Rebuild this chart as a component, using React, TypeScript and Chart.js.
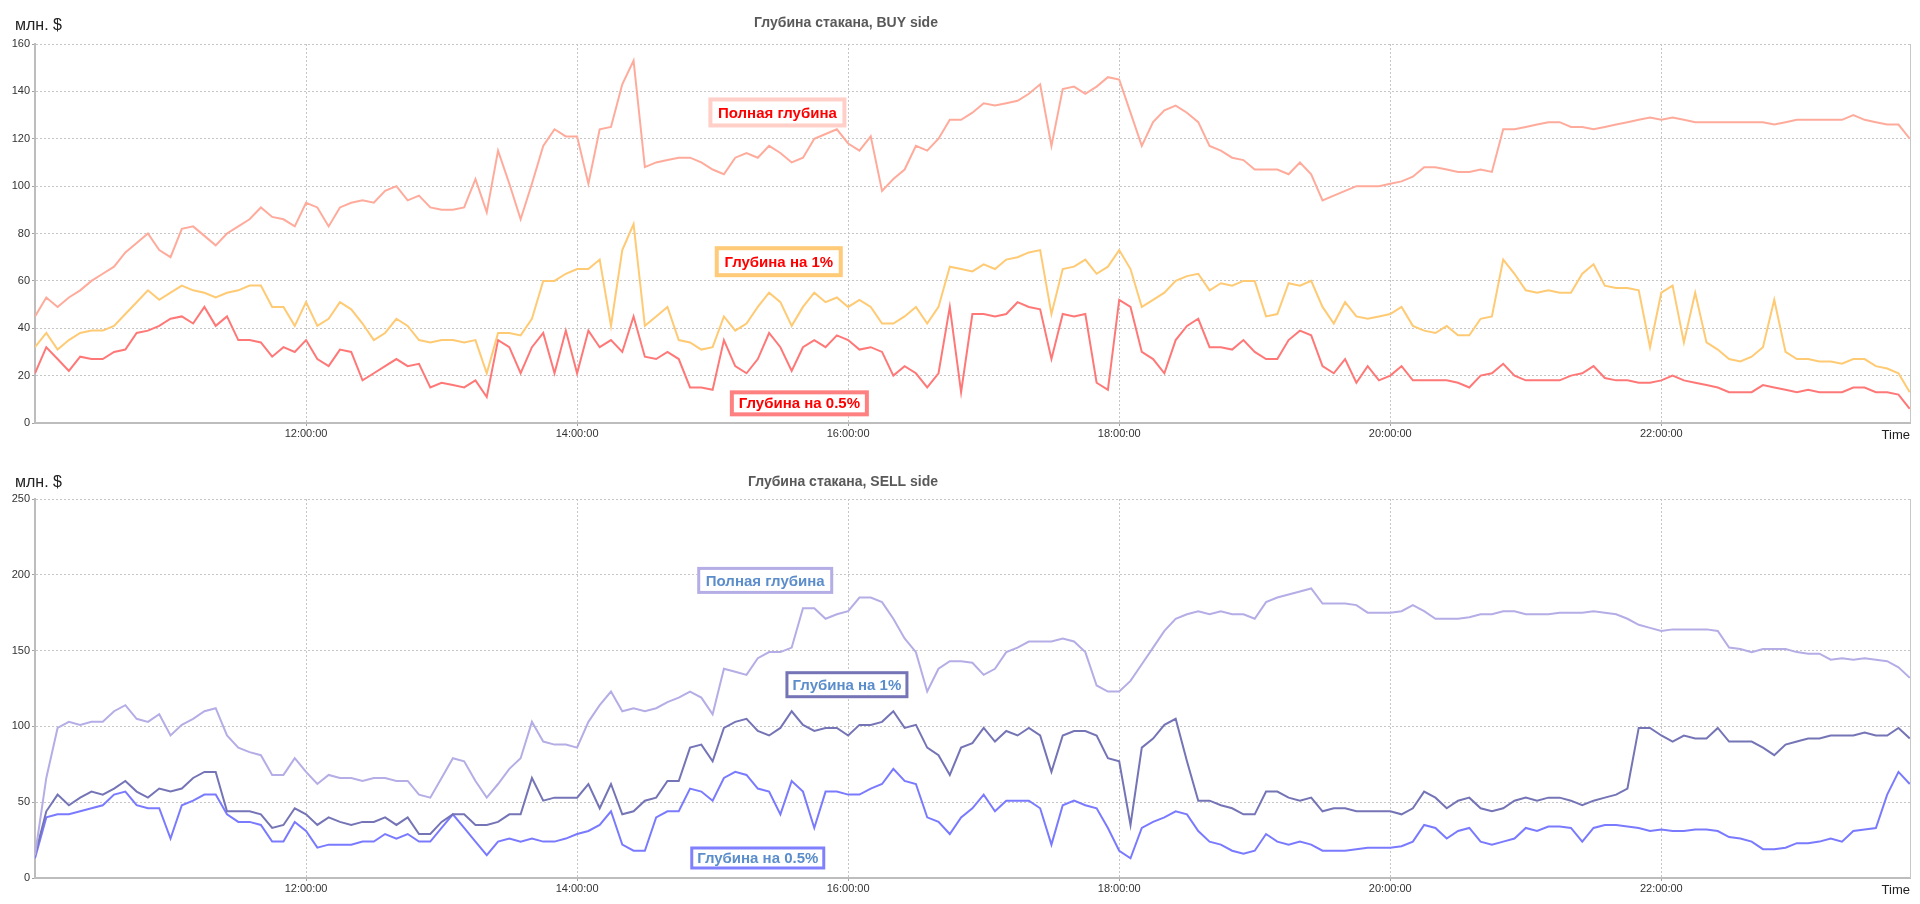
import React, { useEffect, useRef } from 'react';
import { Chart, registerables } from 'chart.js';

Chart.register(...registerables);

// ---- time axis: 5-minute samples from 10:00 to 23:50 ----
const START_HOUR = 10;
const STEP_MINUTES = 5;
const X_MAX_HOUR = 23.835;
const xTickHours = [12, 14, 16, 18, 20, 22];
const buyYTicks = [0, 20, 40, 60, 80, 100, 120, 140, 160];
const sellYTicks = [0, 50, 100, 150, 200, 250];

// ---- BUY side (млн. $) ----
const buyFull = [
  45, 53, 49, 53, 56, 60, 63, 66, 72, 76, 80, 73, // 10h
  70, 82, 83, 79, 75, 80, 83, 86, 91, 87, 86, 83, // 11h
  93, 91, 83, 91, 93, 94, 93, 98, 100, 94, 96, 91, // 12h
  90, 90, 91, 103, 89, 115, 101, 86, 101, 117, 124, 121, // 13h
  121, 101, 124, 125, 143, 153, 108, 110, 111, 112, 112, 110, // 14h
  107, 105, 112, 114, 112, 117, 114, 110, 112, 120, 122, 124, // 15h
  118, 115, 121, 98, 103, 107, 117, 115, 120, 128, 128, 131, // 16h
  135, 134, 135, 136, 139, 143, 117, 141, 142, 139, 142, 146, // 17h
  145, 131, 117, 127, 132, 134, 131, 127, 117, 115, 112, 111, // 18h
  107, 107, 107, 105, 110, 105, 94, 96, 98, 100, 100, 100, // 19h
  101, 102, 104, 108, 108, 107, 106, 106, 107, 106, 124, 124, // 20h
  125, 126, 127, 127, 125, 125, 124, 125, 126, 127, 128, 129, // 21h
  128, 129, 128, 127, 127, 127, 127, 127, 127, 127, 126, 127, // 22h
  128, 128, 128, 128, 128, 130, 128, 127, 126, 126, 120, // 23h
];
const buy1 = [
  32, 38, 31, 35, 38, 39, 39, 41, 46, 51, 56, 52,
  55, 58, 56, 55, 53, 55, 56, 58, 58, 49, 49, 41,
  51, 41, 44, 51, 48, 42, 35, 38, 44, 41, 35, 34,
  35, 35, 34, 35, 21, 38, 38, 37, 44, 60, 60, 63,
  65, 65, 69, 41, 73, 84, 41, 45, 49, 35, 34, 31,
  32, 45, 39, 42, 49, 55, 51, 41, 49, 55, 51, 53,
  49, 52, 49, 42, 42, 45, 49, 42, 49, 66, 65, 64,
  67, 65, 69, 70, 72, 73, 46, 65, 66, 69, 63, 66,
  73, 65, 49, 52, 55, 60, 62, 63, 56, 59, 58, 60,
  60, 45, 46, 59, 58, 60, 49, 42, 51, 45, 44, 45,
  46, 49, 41, 39, 38, 41, 37, 37, 44, 45, 69, 63,
  56, 55, 56, 55, 55, 63, 67, 58, 57, 57, 56, 32,
  55, 58, 34, 55, 34, 31, 27, 26, 28, 32, 52, 30,
  27, 27, 26, 26, 25, 27, 27, 24, 23, 21, 13,
];
const buy05 = [
  21, 32, 27, 22, 28, 27, 27, 30, 31, 38, 39, 41,
  44, 45, 42, 49, 41, 45, 35, 35, 34, 28, 32, 30,
  35, 27, 24, 31, 30, 18, 21, 24, 27, 24, 25, 15,
  17, 16, 15, 18, 11, 35, 32, 21, 32, 38, 21, 39,
  21, 39, 32, 35, 30, 45, 28, 27, 30, 27, 15, 15,
  14, 35, 24, 21, 27, 38, 32, 22, 32, 35, 32, 37,
  35, 31, 32, 30, 20, 24, 21, 15, 21, 49, 13, 46,
  46, 45, 46, 51, 49, 48, 27, 46, 45, 46, 17, 14,
  52, 49, 30, 27, 21, 35, 41, 44, 32, 32, 31, 35,
  30, 27, 27, 35, 39, 37, 24, 21, 27, 17, 24, 18,
  20, 24, 18, 18, 18, 18, 17, 15, 20, 21, 25, 20,
  18, 18, 18, 18, 20, 21, 24, 19, 18, 18, 17, 17,
  18, 20, 18, 17, 16, 15, 13, 13, 13, 16, 15, 14,
  13, 14, 13, 13, 13, 15, 15, 13, 13, 12, 6,
];

// ---- SELL side (млн. $) ----
const sellFull = [
  15, 66, 99, 103, 101, 103, 103, 110, 114, 105, 103, 108,
  94, 101, 105, 110, 112, 94, 86, 83, 81, 68, 68, 79,
  70, 62, 68, 66, 66, 64, 66, 66, 64, 64, 55, 53,
  66, 79, 77, 64, 53, 62, 72, 79, 103, 90, 88, 88,
  86, 103, 114, 123, 110, 112, 110, 112, 116, 119, 123, 119,
  108, 138, 136, 134, 145, 149, 149, 152, 178, 178, 171, 174,
  176, 185, 185, 182, 171, 158, 149, 123, 138, 143, 143, 142,
  134, 138, 149, 152, 156, 156, 156, 158, 156, 149, 127, 123,
  123, 130, 141, 152, 163, 171, 174, 176, 174, 176, 174, 174,
  171, 182, 185, 187, 189, 191, 181, 181, 181, 180, 175, 175,
  175, 176, 180, 176, 171, 171, 171, 172, 174, 174, 176, 176,
  174, 174, 174, 175, 175, 175, 176, 175, 174, 171, 167, 165,
  163, 164, 164, 164, 164, 163, 152, 151, 149, 151, 151, 151,
  149, 148, 148, 144, 145, 144, 145, 144, 143, 139, 132,
];
const sell1 = [
  15, 44, 55, 48, 53, 57, 55, 59, 64, 57, 53, 59,
  57, 59, 66, 70, 70, 44, 44, 44, 42, 33, 35, 46,
  42, 35, 40, 37, 35, 37, 37, 40, 35, 40, 29, 29,
  37, 42, 42, 35, 35, 37, 42, 42, 66, 51, 53, 53,
  53, 62, 46, 62, 42, 44, 51, 53, 64, 64, 86, 88,
  77, 99, 103, 105, 97, 94, 99, 110, 101, 97, 99, 99,
  94, 101, 101, 103, 110, 99, 101, 86, 81, 68, 86, 89,
  99, 90, 97, 94, 99, 94, 70, 94, 97, 97, 94, 79,
  77, 35, 86, 92, 101, 105, 77, 51, 51, 48, 46, 42,
  42, 57, 57, 53, 51, 53, 44, 46, 46, 44, 44, 44,
  44, 42, 46, 57, 53, 46, 51, 53, 46, 44, 46, 51,
  53, 51, 53, 53, 51, 48, 51, 53, 55, 59, 99, 99,
  94, 90, 94, 92, 92, 99, 90, 90, 90, 86, 81, 88,
  90, 92, 92, 94, 94, 94, 96, 94, 94, 99, 92,
];
const sell05 = [
  13, 40, 42, 42, 44, 46, 48, 55, 57, 48, 46, 46,
  26, 48, 51, 55, 55, 42, 37, 37, 35, 24, 24, 37,
  31, 20, 22, 22, 22, 24, 24, 29, 26, 29, 24, 24,
  33, 42, 33, 24, 15, 24, 26, 24, 26, 24, 24, 26,
  29, 31, 35, 44, 22, 18, 18, 40, 44, 44, 59, 57,
  51, 66, 70, 68, 59, 57, 42, 64, 57, 33, 57, 57,
  55, 55, 59, 62, 72, 64, 62, 40, 37, 29, 40, 46,
  55, 44, 51, 51, 51, 46, 22, 48, 51, 48, 46, 33,
  18, 13, 33, 37, 40, 44, 42, 31, 24, 22, 18, 16,
  18, 29, 24, 22, 24, 22, 18, 18, 18, 19, 20, 20,
  20, 21, 24, 35, 33, 26, 31, 33, 24, 22, 24, 26,
  33, 31, 34, 34, 33, 24, 33, 35, 35, 34, 33, 31,
  32, 31, 31, 32, 32, 31, 27, 26, 24, 19, 19, 20,
  23, 23, 24, 26, 24, 31, 32, 33, 55, 70, 62,
];

const seriesNames = ['Полная глубина', 'Глубина на 1%', 'Глубина на 0.5%'];

const hours = buyFull.map((_, i) => START_HOUR + (i * STEP_MINUTES) / 60);

const FONT = '"Liberation Sans", Arial, sans-serif';

type Note = { text: string; x: number; y: number; w: number; h: number; lw: number; border: string; color: string };

type PanelCfg = {
  title: string;
  titleX: number;
  titleY: number;
  unitY: number;
  timeY: number;
  padTop: number;
  xAxisHeight: number;
  yMax: number;
  yTicks: number[];
  series: number[][];
  colors: string[];
  notes: Note[];
};

const buyPanel: PanelCfg = {
  title: 'Глубина стакана, BUY side',
  titleX: 846,
  titleY: 23,
  unitY: 26,
  timeY: 435,
  padTop: 44,
  xAxisHeight: 29,
  yMax: 160,
  yTicks: buyYTicks,
  series: [buyFull, buy1, buy05],
  colors: ['#ffab9c', '#ffca74', '#ff7878'],
  notes: [
    { text: seriesNames[0], x: 15.478, y: 131.1, w: 138, h: 30, lw: 4, border: '#ffcfc8', color: '#ff0000' },
    { text: seriesNames[1], x: 15.488, y: 68.1, w: 128, h: 31, lw: 4, border: '#ffcb78', color: '#ff0000' },
    { text: seriesNames[2], x: 15.64, y: 8.3, w: 139, h: 26, lw: 4, border: '#ff8080', color: '#ff0000' },
  ],
};

const sellPanel: PanelCfg = {
  title: 'Глубина стакана, SELL side',
  titleX: 843,
  titleY: 30,
  unitY: 31,
  timeY: 438,
  padTop: 47,
  xAxisHeight: 26,
  yMax: 250,
  yTicks: sellYTicks,
  series: [sellFull, sell1, sell05],
  colors: ['#b4ade6', '#7474b6', '#7a7aff'],
  notes: [
    { text: seriesNames[0], x: 15.388, y: 196.3, w: 136, h: 27, lw: 3, border: '#b4ade6', color: '#5b8dcb' },
    { text: seriesNames[1], x: 15.991, y: 127.5, w: 123, h: 27, lw: 3, border: '#7474b6', color: '#5b8dcb' },
    { text: seriesNames[2], x: 15.333, y: 13.2, w: 135, h: 23, lw: 3, border: '#8080ff', color: '#5b8dcb' },
  ],
};

function two(n: number) {
  return n < 10 ? '0' + n : '' + n;
}

function makeOverlay(cfg: PanelCfg) {
  return {
    id: 'overlay',
    afterDraw(chart: any) {
      const { ctx, chartArea, scales } = chart;
      ctx.save();
      // right frame line
      ctx.strokeStyle = '#c8c8c8';
      ctx.lineWidth = 1;
      ctx.beginPath();
      ctx.moveTo(Math.round(chartArea.right) + 0.5, chartArea.top);
      ctx.lineTo(Math.round(chartArea.right) + 0.5, chartArea.bottom);
      ctx.stroke();
      // title
      ctx.fillStyle = '#595959';
      ctx.font = 'bold 14px ' + FONT;
      ctx.textAlign = 'center';
      ctx.textBaseline = 'middle';
      ctx.fillText(cfg.title, cfg.titleX, cfg.titleY);
      // unit label
      ctx.fillStyle = '#222';
      ctx.font = '16px ' + FONT;
      ctx.textAlign = 'left';
      ctx.fillText('млн. $', 15, cfg.unitY);
      // axis name
      ctx.font = '13px ' + FONT;
      ctx.textAlign = 'right';
      ctx.fillText('Time', chartArea.right, cfg.timeY);
      // boxed labels
      for (const n of cfg.notes) {
        const cx = scales.x.getPixelForValue(n.x);
        const cy = scales.y.getPixelForValue(n.y);
        const x0 = cx - n.w / 2;
        const y0 = cy - n.h / 2;
        ctx.fillStyle = '#ffffff';
        ctx.fillRect(x0, y0, n.w, n.h);
        ctx.strokeStyle = n.border;
        ctx.lineWidth = n.lw;
        ctx.strokeRect(x0 + n.lw / 2, y0 + n.lw / 2, n.w - n.lw, n.h - n.lw);
        ctx.fillStyle = n.color;
        ctx.font = 'bold 15px ' + FONT;
        ctx.textAlign = 'center';
        ctx.textBaseline = 'middle';
        ctx.fillText(n.text, cx, cy + 1);
      }
      ctx.restore();
    },
  };
}

function Panel({ cfg, top, height }: { cfg: PanelCfg; top: number; height: number }) {
  const ref = useRef<HTMLCanvasElement | null>(null);
  useEffect(() => {
    if (!ref.current) return;
    const datasets = cfg.series.map((arr, si) => ({
      label: seriesNames[si],
      data: arr.map((v, i) => ({ x: hours[i], y: v })),
      borderColor: cfg.colors[si],
      backgroundColor: cfg.colors[si],
      borderWidth: 2,
      pointRadius: 0,
      tension: 0,
      fill: false,
    }));
    const chart = new Chart(ref.current, {
      type: 'line',
      data: { datasets },
      options: {
        animation: false,
        responsive: false,
        maintainAspectRatio: false,
        layout: { padding: { top: cfg.padTop, right: 10, bottom: 0, left: 0 } },
        plugins: { legend: { display: false }, tooltip: { enabled: false }, title: { display: false } },
        scales: {
          x: {
            type: 'linear',
            min: START_HOUR,
            max: X_MAX_HOUR,
            afterBuildTicks: (s: any) => {
              s.ticks = xTickHours.map((v) => ({ value: v }));
            },
            afterFit: (s: any) => {
              s.height = cfg.xAxisHeight;
              s.paddingLeft = 0;
              s.paddingRight = 0;
            },
            ticks: {
              callback: (v: any) => two(Number(v)) + ':00:00',
              font: { family: FONT, size: 11 },
              color: '#333',
              padding: 1,
              maxRotation: 0,
              autoSkip: false,
            },
            grid: { color: '#c6c6c6', lineWidth: 1, tickLength: 3, tickColor: '#a0a0a0' },
            border: { display: true, color: '#bdbdbd', width: 2, dash: [2, 2] },
          },
          y: {
            min: 0,
            max: cfg.yMax,
            afterBuildTicks: (s: any) => {
              s.ticks = cfg.yTicks.map((v) => ({ value: v }));
            },
            afterFit: (s: any) => {
              s.width = 35;
              s.paddingTop = 0;
              s.paddingBottom = 0;
            },
            ticks: {
              font: { family: FONT, size: 11 },
              color: '#333',
              padding: 2,
            },
            grid: { color: '#c6c6c6', lineWidth: 1, tickLength: 3, tickColor: '#a0a0a0' },
            border: { display: true, color: '#bdbdbd', width: 2, dash: [2, 2] },
          },
        },
      } as any,
      plugins: [makeOverlay(cfg)],
    });
    return () => chart.destroy();
  }, [cfg]);
  return (
    <canvas
      ref={ref}
      width={1920}
      height={height}
      style={{ position: 'absolute', left: 0, top, width: 1920, height, display: 'block' }}
    />
  );
}

export default function App() {
  return (
    <div style={{ position: 'absolute', left: 0, top: 0, width: 1920, height: 904, background: '#ffffff' }}>
      <Panel cfg={buyPanel} top={0} height={452} />
      <Panel cfg={sellPanel} top={452} height={452} />
    </div>
  );
}
